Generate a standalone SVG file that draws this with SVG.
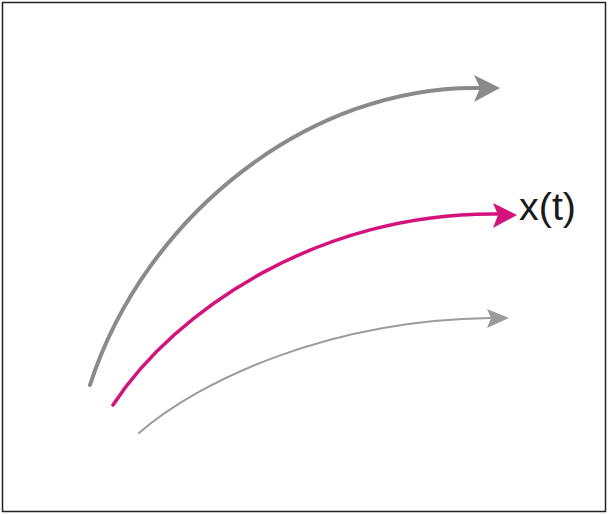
<svg xmlns="http://www.w3.org/2000/svg" width="609" height="514" viewBox="0 0 609 514">
<style>
.c{fill:none;stroke-linecap:round}
.top{stroke:#8a8a8a;stroke-width:4}
.mid{stroke:#d3127c;stroke-width:3.5}
.bot{stroke:#9c9c9c;stroke-width:2}
.lbl{font-family:"Liberation Sans",Arial,sans-serif;font-size:38px;fill:#1a1a1a}
</style>
<rect x="2.5" y="2.5" width="603" height="509" fill="#fff" stroke="#222" stroke-width="1.5"/>
<g id="connectors">
<path class="c top" d="M90,385 C145,215 310,85 480,88"/>
<path d="M500,88 L474,75 L480,88 L474,102 Z" fill="#8a8a8a"/>
<path class="c mid" d="M113,405 C175,310 320,212 497,214"/>
<path d="M517,215 L493,203 L498,215 L493,228 Z" fill="#d3127c"/>
<path class="c bot" d="M139,433 C200,380 330,320 490,318"/>
<path d="M509,318 L487,309 L491,318 L487,328 Z" fill="#9c9c9c"/>
</g>
<g id="label">
<text class="lbl" x="519" y="220" textLength="57" lengthAdjust="spacingAndGlyphs">x(t)</text>
</g>
</svg>
